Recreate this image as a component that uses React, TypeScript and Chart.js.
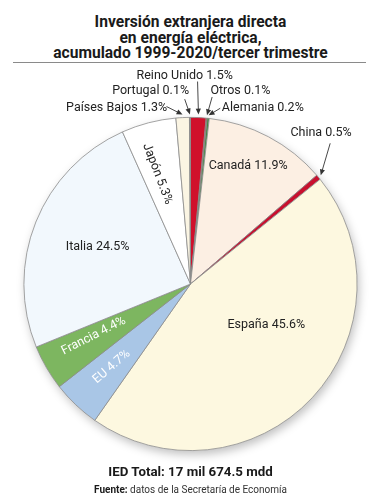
import React, { useEffect, useRef } from 'react';
import { Chart, registerables } from 'chart.js';
Chart.register(...registerables);

const categories = ['Reino Unido', 'Otros', 'Alemania', 'Canadá', 'China', 'España', 'EU', 'Francia', 'Italia', 'Japón', 'Países Bajos', 'Portugal'];
const shares = [1.5, 0.1, 0.2, 11.9, 0.5, 45.6, 4.7, 4.4, 24.5, 5.3, 1.3, 0.1];
const sliceColors = ['#d0112b', '#b5313a', '#3b8c3c', '#fcefe3', '#c8102e', '#fdf8e0', '#a9c6e6', '#7db660', '#f2f8fd', '#ffffff', '#fbf5e3', '#9a9a9a'];

const titleLines = ['Inversión extranjera directa', 'en energía eléctrica,', 'acumulado 1999-2020/tercer trimestre'];
const totalText = 'IED Total: 17 mil 674.5 mdd';
const sourceLabel = 'Fuente:';
const sourceText = ' datos de la Secretaría de Economía';

type LabelStyle = { kind: 'in' | 'out'; a: number; r: number; rot?: number; color?: string; fromA?: number; fromR?: number };
// label placement (clock degrees, fraction of radius)
const labelStyles: LabelStyle[] = [
  { kind: 'out', a: -1.6, r: 1.25, fromA: 2.0, fromR: 1.216 },
  { kind: 'out', a: 14.45, r: 1.2, fromA: 6.6, fromR: 1.13 },
  { kind: 'out', a: 22.3, r: 1.144, fromA: 9.6, fromR: 1.07 },
  { kind: 'in', a: 26, r: 0.79 },
  { kind: 'out', a: 40.9, r: 1.197, fromA: 44.8, fromR: 1.19 },
  { kind: 'in', a: 118.3, r: 0.517 },
  { kind: 'in', a: 223.6, r: 0.686, rot: -41, color: '#ffffff' },
  { kind: 'in', a: 241.8, r: 0.66, rot: -27, color: '#ffffff' },
  { kind: 'in', a: 291.7, r: 0.6 },
  { kind: 'in', a: 343.3, r: 0.69, rot: 69 },
  { kind: 'out', a: -22.7, r: 1.149, fromA: -7.7, fromR: 1.075 },
  { kind: 'out', a: -11.65, r: 1.186, fromA: -1.8, fromR: 1.11 },
];

const LABEL_FONT = '12.5px Roboto';

const shadowPlugin = {
  id: 'pieShadow',
  beforeDatasetsDraw(chart: any) {
    const arc = chart.getDatasetMeta(0).data[0];
    if (!arc) return;
    const { x, y, outerRadius } = arc.getProps(['x', 'y', 'outerRadius'], true);
    const ctx = chart.ctx;
    ctx.save();
    ctx.shadowColor = 'rgba(0,0,0,0.25)';
    ctx.shadowBlur = 10;
    ctx.shadowOffsetX = 2;
    ctx.shadowOffsetY = 4;
    ctx.beginPath();
    ctx.arc(x, y, outerRadius, 0, Math.PI * 2);
    ctx.fillStyle = '#ffffff';
    ctx.fill();
    ctx.restore();
  },
};

const labelPlugin = {
  id: 'pieLabels',
  afterDatasetsDraw(chart: any) {
    const ctx = chart.ctx;
    const meta = chart.getDatasetMeta(0);
    meta.data.forEach((arc: any, i: number) => {
      const st = labelStyles[i];
      if (!st) return;
      const { x, y, outerRadius, startAngle, endAngle } = arc.getProps(['x', 'y', 'outerRadius', 'startAngle', 'endAngle'], true);
      const R = outerRadius;
      const pt = (deg: number, r: number) => {
        const t = (deg * Math.PI) / 180;
        return [x + r * R * Math.sin(t), y - r * R * Math.cos(t)];
      };
      const text = `${categories[i]} ${shares[i]}%`;
      const [tx, ty] = pt(st.a, st.r);
      ctx.save();
      ctx.font = LABEL_FONT;
      ctx.fillStyle = st.color || '#222222';
      ctx.textAlign = 'center';
      ctx.textBaseline = 'middle';
      ctx.translate(tx, ty);
      if (st.rot) ctx.rotate((st.rot * Math.PI) / 180);
      ctx.fillText(text, 0, 0);
      ctx.restore();
      if (st.kind === 'out' && st.fromA !== undefined && st.fromR !== undefined) {
        const [fx, fy] = pt(st.fromA, st.fromR);
        const mid = (startAngle + endAngle) / 2;
        const ex = x + (R + 3) * Math.cos(mid);
        const ey = y + (R + 3) * Math.sin(mid);
        const ang = Math.atan2(ey - fy, ex - fx);
        ctx.save();
        ctx.strokeStyle = '#333333';
        ctx.fillStyle = '#333333';
        ctx.lineWidth = 0.9;
        ctx.beginPath();
        ctx.moveTo(fx, fy);
        ctx.lineTo(ex - 4 * Math.cos(ang), ey - 4 * Math.sin(ang));
        ctx.stroke();
        const h = 6, w = 2.6;
        ctx.beginPath();
        ctx.moveTo(ex, ey);
        ctx.lineTo(ex - h * Math.cos(ang) + w * Math.sin(ang), ey - h * Math.sin(ang) - w * Math.cos(ang));
        ctx.lineTo(ex - h * Math.cos(ang) - w * Math.sin(ang), ey - h * Math.sin(ang) + w * Math.cos(ang));
        ctx.closePath();
        ctx.fill();
        ctx.restore();
      }
    });
  },
};

function PieChart() {
  const ref = useRef<HTMLCanvasElement | null>(null);
  useEffect(() => {
    if (!ref.current) return;
    const chart = new Chart(ref.current, {
      type: 'pie',
      data: {
        labels: categories,
        datasets: [
          {
            data: shares,
            backgroundColor: sliceColors,
            borderColor: '#8c8c8c',
            borderWidth: 0.8,
          },
        ],
      },
      options: {
        animation: false,
        responsive: false,
        events: [],
        layout: { padding: { top: 57, bottom: 19, left: 0, right: 0 } },
        plugins: {
          legend: { display: false },
          tooltip: { enabled: false },
          title: { display: false },
        },
      },
      plugins: [shadowPlugin, labelPlugin],
    });
    return () => chart.destroy();
  }, []);
  return <canvas ref={ref} width={381} height={410} style={{ display: 'block', width: 381, height: 410 }} />;
}

export default function App() {
  return (
    <div style={{ position: 'absolute', left: 0, top: 0, width: 381, height: 500, background: '#ffffff', overflow: 'hidden', fontFamily: 'Roboto, sans-serif', color: '#1a1a1a' }}>
      <div style={{ position: 'absolute', top: 15, left: 0, width: 381, textAlign: 'center', fontSize: 15.6, lineHeight: '15.5px', fontWeight: 700 }}>
        {titleLines.map((t) => (
          <div key={t}>{t}</div>
        ))}
      </div>
      <div style={{ position: 'absolute', top: 62, left: 13, width: 353, height: 1, background: '#8a8a8a' }} />
      <div style={{ position: 'absolute', top: 60, left: 0 }}>
        <PieChart />
      </div>
      <div style={{ position: 'absolute', top: 464, left: 0, width: 381, textAlign: 'center', fontSize: 13.3, lineHeight: '16px', fontWeight: 700 }}>{totalText}</div>
      <div style={{ position: 'absolute', top: 483, left: 0, width: 381, textAlign: 'center', fontSize: 10, lineHeight: '13px', color: '#333' }}>
        <span style={{ fontWeight: 700, color: '#1a1a1a' }}>{sourceLabel}</span>
        {sourceText}
      </div>
    </div>
  );
}
